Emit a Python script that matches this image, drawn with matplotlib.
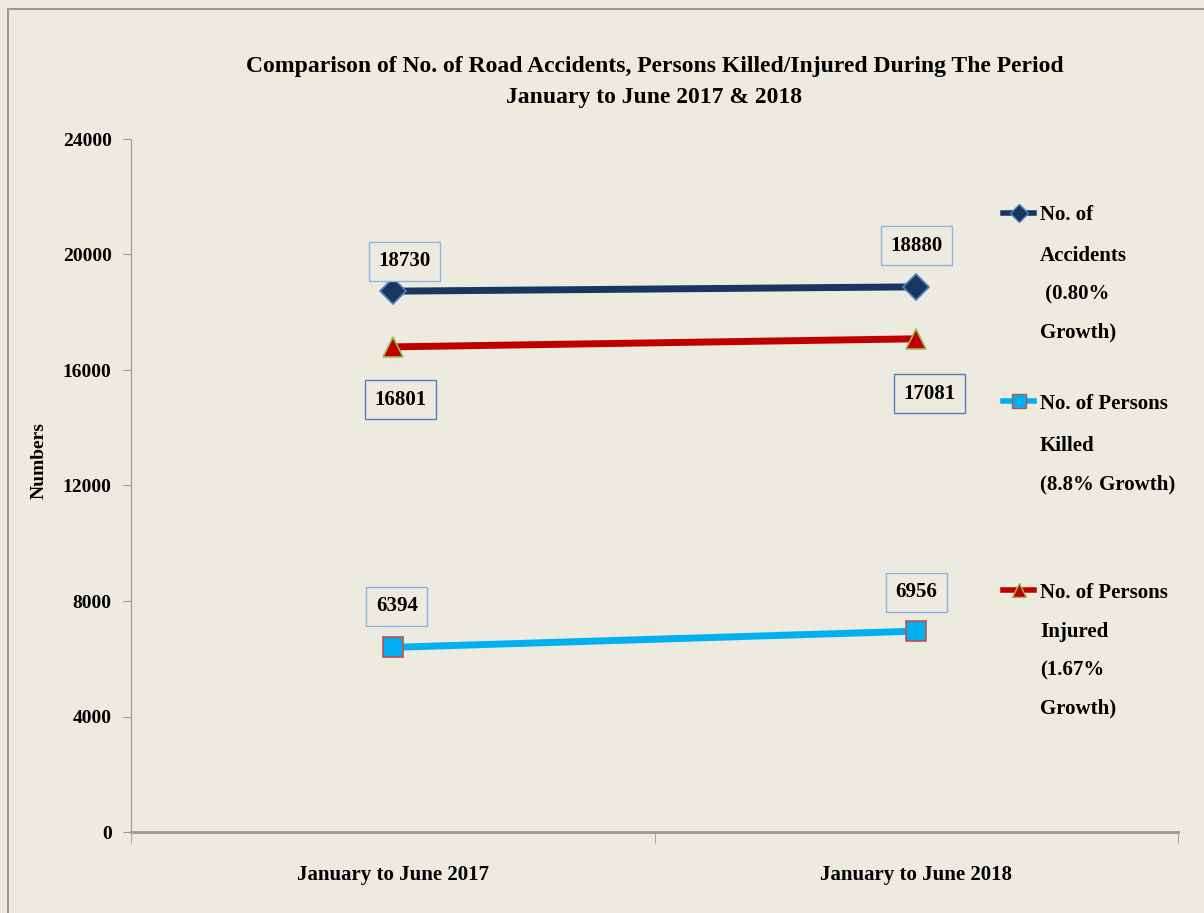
import matplotlib
matplotlib.use("Agg")
import matplotlib.pyplot as plt
from matplotlib.lines import Line2D

periods = ["January to June 2017", "January to June 2018"]
accidents = [18730, 18880]
injured = [16801, 17081]
killed = [6394, 6956]

legend_lines = {
    "acc": ["No. of", "Accidents", " (0.80%", "Growth)"],
    "kil": ["No. of Persons", "Killed", "(8.8% Growth)"],
    "inj": ["No. of Persons", "Injured", "(1.67%", "Growth)"],
}

bg = "#EDEAE0"
font = "Liberation Serif"
plt.rcParams["font.family"] = [font, "DejaVu Serif"]
plt.rcParams["font.weight"] = "bold"

fig = plt.figure(figsize=(12.04, 9.13), dpi=100, facecolor=bg)
ax = fig.add_axes([131 / 1204, 1 - 832 / 913, (1178 - 131) / 1204, (832 - 139) / 913])
ax.set_facecolor(bg)

# frame lines top and left of the picture
fig.add_artist(Line2D([8 / 1204, 1], [1 - 9 / 913, 1 - 9 / 913], color="#9A9A9A", lw=1.5))
fig.add_artist(Line2D([8 / 1204, 8 / 1204], [0, 1 - 9 / 913], color="#9A9A9A", lw=1.5))

x = list(range(len(periods)))

ax.plot(x, accidents, color="#17375E", lw=5, marker="D", ms=13,
        mfc="#17375E", mec="#4F81BD", mew=1.2, zorder=3)
ax.plot(x, injured, color="#C00000", lw=5, marker="^", ms=15,
        mfc="#C00000", mec="#9BBB59", mew=1.2, zorder=3)
ax.plot(x, killed, color="#00B0F0", lw=5, marker="s", ms=15,
        mfc="#00B0F0", mec="#C0504D", mew=1.2, zorder=3)

def label(xi, v, dx, dy, ec):
    ax.annotate(str(v), (xi, v), xytext=(dx, dy), textcoords="offset pixels",
                ha="center", va="center", fontsize=15, fontweight="bold",
                bbox=dict(boxstyle="square,pad=0.45", fc=bg, ec=ec, lw=1))

label(0, accidents[0], 12, 30, "#8DB4E2")
label(1, accidents[1], 0, 41, "#8DB4E2")
label(0, injured[0], 8, -53, "#4F81BD")
label(1, injured[1], 13, -55, "#4F81BD")
label(0, killed[0], 4, 41, "#8DB4E2")
label(1, killed[1], 0, 39, "#8DB4E2")

ax.set_xlim(-0.5, 1.5)
ax.set_ylim(0, 24000)
ax.set_yticks(range(0, 24001, 4000))
ax.set_xticks(x)
ax.set_xticklabels(periods, fontsize=15, fontweight="bold")
ax.set_xticks([-0.5, 0.5, 1.5], minor=True)
ax.tick_params(axis="x", which="major", length=0, pad=24)
ax.tick_params(axis="x", which="minor", length=8, color="#9A9A9A", direction="out")
ax.tick_params(axis="y", length=6, color="#9A9A9A", direction="out", pad=8, labelsize=14)
for s in ["top", "right"]:
    ax.spines[s].set_visible(False)
ax.spines["left"].set_color("#9A9A9A")
ax.spines["bottom"].set_color("#9A9A9A")
ax.spines["bottom"].set_linewidth(2)

ax.set_ylabel("Numbers", fontsize=14, fontweight="bold")
ax.yaxis.set_label_coords(-0.08, 0.536)

ax.set_title("Comparison of No. of Road Accidents, Persons Killed/Injured During The Period\n"
             "January to June 2017 & 2018", fontsize=17, fontweight="bold",
             linespacing=1.6, pad=26)

# legend: handle with first line, remaining lines as text below
handles = [
    Line2D([], [], color="#17375E", lw=4, marker="D", ms=9, mfc="#17375E", mec="#4F81BD"),
    Line2D([], [], color="#00B0F0", lw=4, marker="s", ms=10, mfc="#00B0F0", mec="#C0504D"),
    Line2D([], [], color="#C00000", lw=4, marker="^", ms=10, mfc="#C00000", mec="#9BBB59"),
]
firsts = [legend_lines[k][0] for k in ["acc", "kil", "inj"]]
leg = fig.legend(handles, firsts, loc="upper left", bbox_to_anchor=(1003 / 1204, 1 - 205 / 913),
                 frameon=False, borderpad=0, borderaxespad=0,
                 handlelength=1.5, handletextpad=0.3, labelspacing=8.1,
                 prop={"family": font, "weight": "bold", "size": 15})

tops = [218, 408, 594]
for top, key in zip(tops, ["acc", "kil", "inj"]):
    for i, line in enumerate(legend_lines[key][1:], start=1):
        fig.text(1040 / 1204, 1 - (top + 38 * i) / 913, line, ha="left", va="center",
                 fontsize=15, fontweight="bold")

fig.savefig("out.png", dpi=100, facecolor=bg)
